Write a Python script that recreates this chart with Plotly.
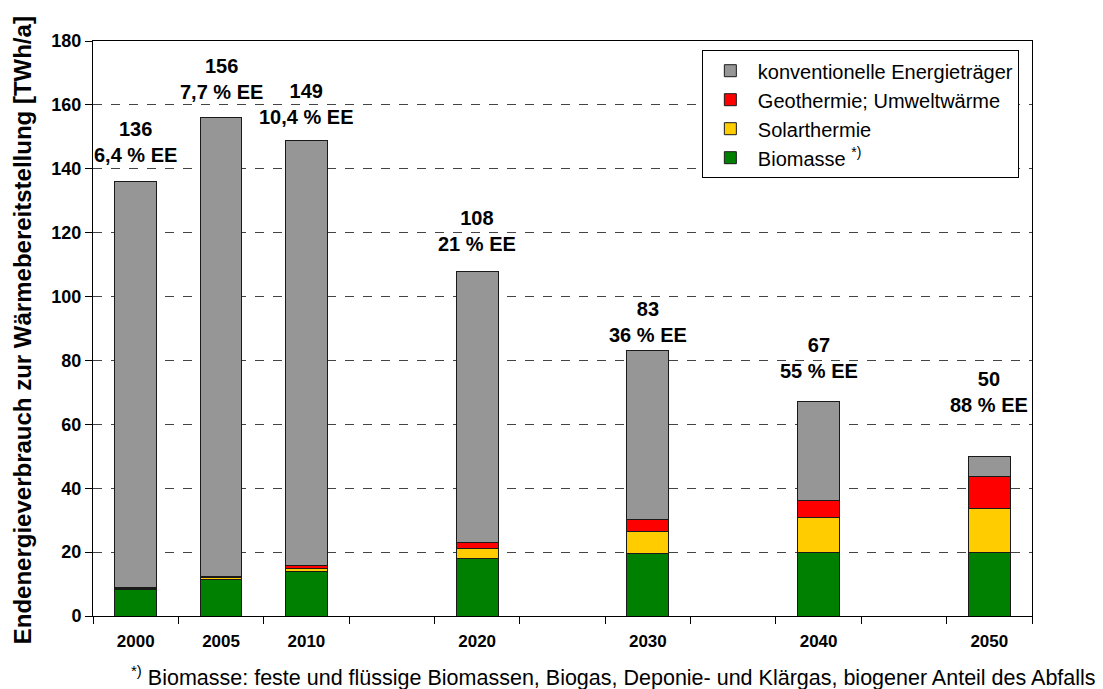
import plotly.graph_objects as go

# ---- data ----
years = ["2000", "2005", "2010", "2020", "2030", "2040", "2050"]
slots = [0, 1, 2, 4, 6, 8, 10]          # category slots (gaps for missing decades)
totals = [136, 156, 149, 108, 83, 67, 50]
biomasse = [8.2, 11.3, 13.8, 18.0, 19.6, 20.0, 20.0]
solarthermie = [0.3, 0.6, 1.0, 3.0, 6.8, 10.7, 13.8]
geothermie = [0.4, 0.5, 1.0, 2.0, 3.7, 5.6, 10.0]
ee_share = ["6,4 % EE", "7,7 % EE", "10,4 % EE", "21 % EE", "36 % EE", "55 % EE", "88 % EE"]
konventionell = [t - b - s - g for t, b, s, g in zip(totals, biomasse, solarthermie, geothermie)]

# ---- style ----
FONT = "Liberation Sans, Arial, sans-serif"
label_shift_px = [14, 13, 10, 14, 3, 18, 38]
bar_width = 0.49

fig = go.Figure()
series = [
    ("Biomasse <sup>*)</sup>", biomasse, "#008000"),
    ("Solarthermie", solarthermie, "#FFCC00"),
    ("Geothermie; Umweltwärme", geothermie, "#FF0000"),
    ("konventionelle Energieträger", konventionell, "#969696"),
]
for name, vals, col in series:
    fig.add_trace(go.Bar(
        x=slots, y=vals, name=name, width=bar_width,
        marker=dict(color=col, line=dict(color="#1a1a1a", width=1)),
        hoverinfo="skip",
    ))

for s, t, ee, sh in zip(slots, totals, ee_share, label_shift_px):
    fig.add_annotation(
        x=s, y=t, xref="x", yref="y", text=f"<b>{t}<br>{ee}</b>",
        showarrow=False, yanchor="bottom", xanchor="center", yshift=sh,
        font=dict(family=FONT, size=20, color="black"), align="center",
    )

fig.add_annotation(
    xref="paper", yref="paper", x=-0.0756, y=0.497, textangle=-90,
    text="<b>Endenergieverbrauch zur Wärmebereitstellung [TWh/a]</b>",
    showarrow=False, xanchor="center", yanchor="middle",
    font=dict(family=FONT, size=24, color="black"),
)
fig.add_annotation(
    xref="paper", yref="paper", x=1.0703, y=-0.104,
    text="<sup>*)</sup> Biomasse: feste und flüssige Biomassen, Biogas, Deponie- und Klärgas, biogener Anteil des Abfalls",
    showarrow=False, xanchor="right", yanchor="middle",
    font=dict(family=FONT, size=21.5, color="black"),
)

fig.update_layout(
    width=1095, height=681,
    margin=dict(l=85, r=71, t=33, b=73),
    barmode="stack",
    paper_bgcolor="white", plot_bgcolor="white",
    font=dict(family=FONT, color="black"),
    legend=dict(
        x=0.986, y=0.984, xanchor="right", yanchor="top",
        bgcolor="white", bordercolor="black", borderwidth=1,
        traceorder="reversed",
        font=dict(family=FONT, size=20, color="black"),
        itemwidth=45, tracegroupgap=0,
    ),
    showlegend=True,
)
fig.update_xaxes(
    range=[-0.5, 10.5],
    tickmode="array", tickvals=slots, ticktext=[f"<b>{y}</b>" for y in years],
    ticks="", ticklabelstandoff=10,
    tickfont=dict(family=FONT, size=17, color="black"),
    showline=True, linecolor="black", linewidth=1, mirror=True,
    showgrid=False, zeroline=False,
    minor=dict(tickmode="array", tickvals=[i - 0.5 for i in range(12)],
               ticks="outside", ticklen=7, tickcolor="black", tickwidth=1, showgrid=False),
)
fig.update_yaxes(
    range=[0, 180], dtick=20, tick0=0,
    ticks="outside", ticklen=7, tickcolor="black",
    tickfont=dict(family=FONT, size=18, color="black"),
    tickformat="d",
    showline=True, linecolor="black", linewidth=1, mirror=True,
    showgrid=True, gridcolor="#444444", gridwidth=1, griddash="dash",
    zeroline=False,
)
fig.update_yaxes(tickprefix="<b>", ticksuffix="</b>")

fig.write_html("out.html")
